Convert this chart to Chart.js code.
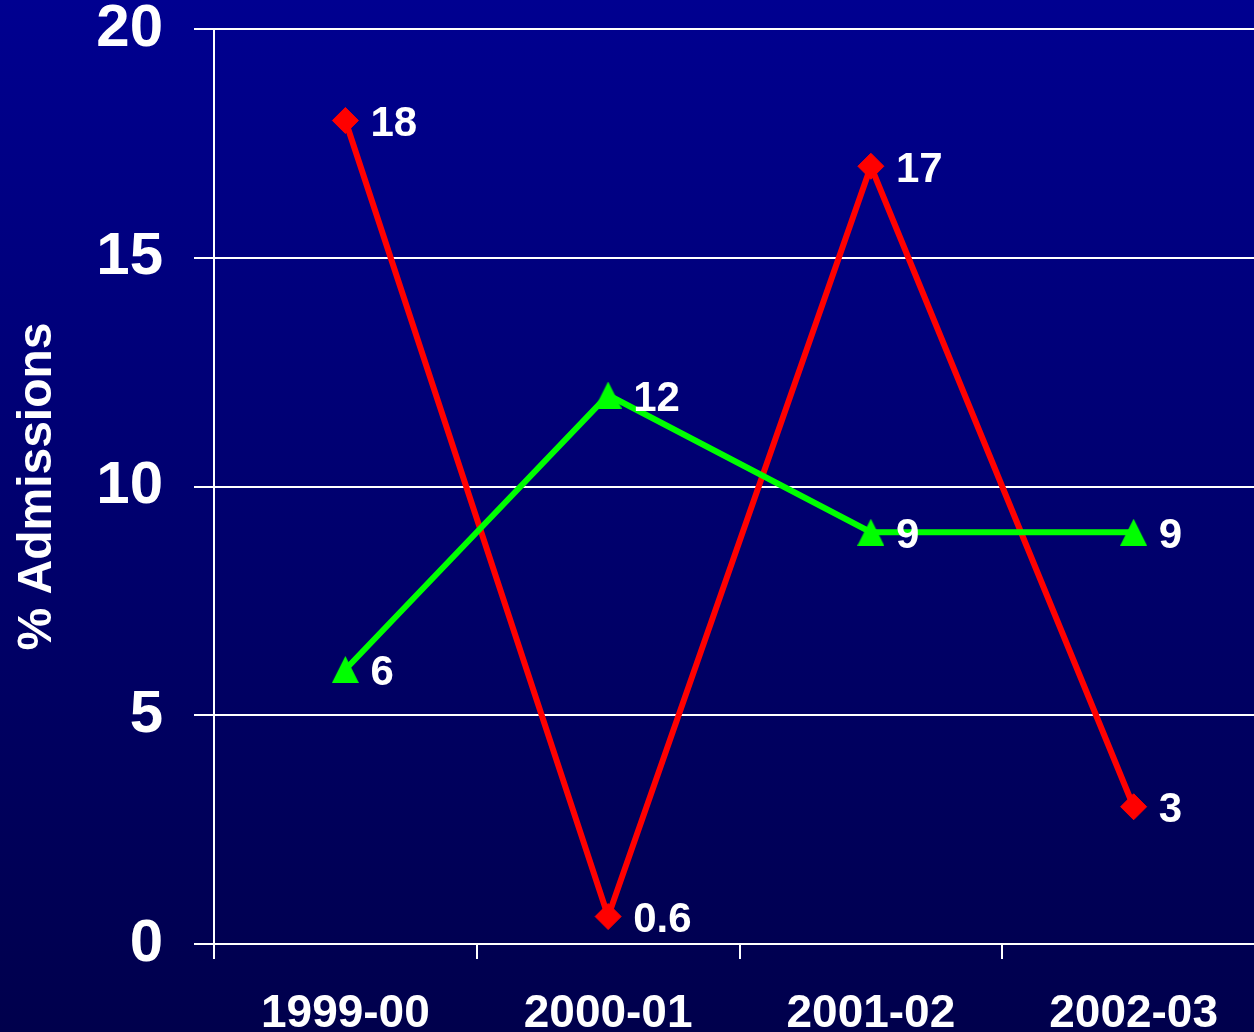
<!DOCTYPE html>
<html>
<head>
<meta charset="utf-8">
<title>% Admissions</title>
<script src="https://cdn.jsdelivr.net/npm/chart.js@4.4.1/dist/chart.umd.min.js"></script>
<style>
  html, body { margin: 0; padding: 0; overflow: hidden; background: #00006e; }
  canvas { display: block; }
</style>
</head>
<body>
<canvas id="admChart" width="1266" height="1032"></canvas>
<script>
// Dados do gráfico
const years = ['1999-00', '2000-01', '2001-02', '2002-03'];
const redValues = [18, 0.6, 17, 3];
const greenValues = [6, 12, 9, 9];
const yTicks = [0, 5, 10, 15, 20];

const FONT = '"Liberation Sans", Arial, sans-serif';

// triângulo verde (base = altura), centrado no ponto
function triangleMarker(size, color) {
    const c = document.createElement('canvas');
    c.width = size;
    c.height = size;
    const g = c.getContext('2d');
    g.fillStyle = color;
    g.beginPath();
    g.moveTo(size / 2, 0);
    g.lineTo(size, size);
    g.lineTo(0, size);
    g.closePath();
    g.fill();
    return c;
}

// fundo em degradê azul
const gradientBg = {
    id: 'gradientBg',
    beforeDraw(chart) {
        const { ctx, width, height } = chart;
        const grad = ctx.createLinearGradient(0, 0, 0, height);
        grad.addColorStop(0, '#000090');
        grad.addColorStop(1, '#00004c');
        ctx.save();
        ctx.fillStyle = grad;
        ctx.fillRect(0, 0, width, height);
        ctx.restore();
    }
};

// rótulos de valor à direita de cada ponto
const valueLabels = {
    id: 'valueLabels',
    afterDatasetsDraw(chart) {
        const ctx = chart.ctx;
        ctx.save();
        ctx.font = 'bold 42px ' + FONT;
        ctx.fillStyle = '#ffffff';
        ctx.textAlign = 'left';
        ctx.textBaseline = 'middle';
        chart.data.datasets.forEach((ds, i) => {
            chart.getDatasetMeta(i).data.forEach((pt, j) => {
                ctx.fillText(String(ds.data[j]), pt.x + 25, pt.y + 4);
            });
        });
        ctx.restore();
    }
};

const data = {
    labels: years,
    datasets: [
        {
            label: 'Grupo B',
            data: greenValues,
            borderColor: '#00ff00',
            backgroundColor: '#00ff00',
            borderWidth: 6,
            pointStyle: triangleMarker(27, '#00ff00'),
            pointRadius: 14,
            tension: 0
        },
        {
            label: 'Grupo A',
            data: redValues,
            borderColor: '#ff0000',
            backgroundColor: '#ff0000',
            borderWidth: 6,
            pointStyle: 'rectRot',
            pointRadius: 13,
            pointBorderWidth: 1,
            tension: 0
        }
    ]
};

const config = {
    type: 'line',
    data: data,
    plugins: [gradientBg, valueLabels],
    options: {
        responsive: false,
        devicePixelRatio: 1,
        animation: false,
        layout: {
            autoPadding: false,
            padding: { top: 29, right: 1, left: 0, bottom: 0 }
        },
        plugins: {
            legend: { display: false },
            tooltip: { enabled: false }
        },
        scales: {
            x: {
                offset: true,
                grid: {
                    display: true,
                    offset: true,
                    drawOnChartArea: false,
                    drawTicks: true,
                    tickLength: 15,
                    color: '#ffffff',
                    lineWidth: 2
                },
                border: { display: true, color: '#ffffff', width: 2 },
                ticks: {
                    color: '#ffffff',
                    font: { family: FONT, size: 46, weight: 'bold' },
                    padding: 28,
                    maxRotation: 0,
                    autoSkip: false
                },
                afterFit(scale) {
                    scale.height = 88;
                    scale.paddingLeft = 0;
                    scale.paddingRight = 0;
                }
            },
            y: {
                min: 0,
                max: 20,
                afterBuildTicks(scale) {
                    scale.ticks = yTicks.map(v => ({ value: v }));
                },
                grid: {
                    color: '#ffffff',
                    lineWidth: 2,
                    drawTicks: true,
                    tickLength: 20
                },
                border: { display: true, color: '#ffffff', width: 2 },
                ticks: {
                    color: '#ffffff',
                    font: { family: FONT, size: 60, weight: 'bold' },
                    padding: 31
                },
                title: {
                    display: true,
                    text: '% Admissions',
                    color: '#ffffff',
                    font: { family: FONT, size: 48, weight: 'bold' },
                    padding: { top: 9, bottom: 0 }
                },
                afterFit(scale) {
                    scale.width = 214;
                    scale.paddingTop = 0;
                    scale.paddingBottom = 0;
                }
            }
        }
    }
};

// Renderizar o gráfico
const admChart = new Chart(document.getElementById('admChart'), config);
</script>
</body>
</html>
